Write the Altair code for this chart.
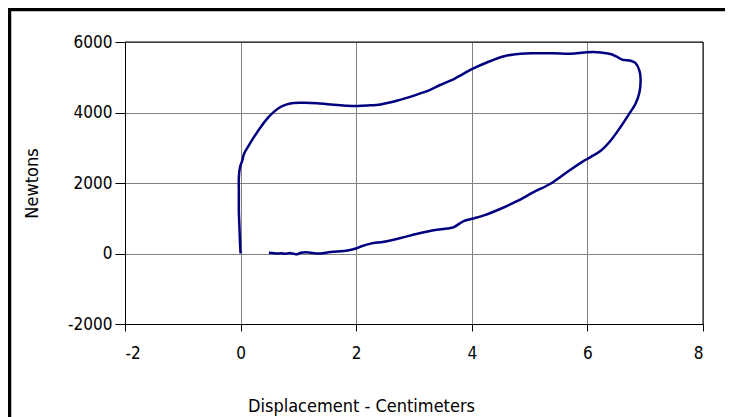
import altair as alt
import pandas as pd

# Traced load–displacement loop (cm, N), in drawing order
disp_cm = [0.00, -0.01, -0.02, -0.03, -0.03, -0.03, -0.01, 0.03, 0.06, 0.14, 0.23, 0.34, 0.46, 0.57,
           0.69, 0.80, 0.92, 1.10, 1.33, 1.61, 1.85, 2.02, 2.20, 2.42, 2.60, 2.77, 2.92, 3.06, 3.26,
           3.45, 3.69, 4.01, 4.27, 4.56, 4.84, 5.10, 5.42, 5.71, 6.00, 6.23, 6.40, 6.50, 6.60, 6.75,
           6.83, 6.90, 6.92, 6.90, 6.83, 6.72, 6.57, 6.40, 6.23, 6.06, 5.91, 5.65, 5.36, 5.07, 4.79,
           4.50, 4.21, 4.01, 3.86, 3.69, 3.58, 3.34, 3.06, 2.77, 2.48, 2.25, 2.08, 2.01, 1.85, 1.56,
           1.38, 1.30, 1.18, 1.04, 0.98, 0.92, 0.85, 0.78, 0.70, 0.62, 0.55, 0.49]
force_n = [0, 300, 750, 1200, 1700, 2170, 2450, 2640, 2830, 3060, 3300, 3570, 3825, 4010,
           4155, 4230, 4270, 4275, 4260, 4220, 4190, 4185, 4200, 4230, 4290, 4365, 4435, 4515, 4630,
           4780, 4950, 5235, 5425, 5595, 5670, 5680, 5680, 5665, 5710, 5705, 5660, 5590, 5500, 5470,
           5405, 5190, 4950, 4570, 4240, 3955, 3580, 3200, 2915, 2740, 2600, 2310, 1980, 1740, 1490,
           1270, 1080, 985, 920, 750, 710, 660, 560, 440, 335, 280, 200, 150, 85, 40,
           0, 0, 30, 20, -20, -10, 15, -10, 5, 0, 15, 20]

x_ticks = [-2, 0, 2, 4, 6, 8]
y_ticks = [-2000, 0, 2000, 4000, 6000]

df = pd.DataFrame({"x": disp_cm, "y": force_n, "i": list(range(len(disp_cm)))})

W, H = 578, 282
FONT = "DejaVu Sans Condensed, Liberation Sans Narrow, Arial Narrow, Liberation Sans, sans-serif"

line = alt.Chart(df).mark_line(color="#000080", strokeWidth=2.5, interpolate="catmull-rom").encode(
    x=alt.X("x:Q", scale=alt.Scale(domain=[-2, 8], nice=False, zero=False),
            axis=alt.Axis(values=x_ticks, title="Displacement - Centimeters",
                          labelExpr="'' + datum.value",
                          tickSize=7, labelPadding=14, titleX=236, titleY=82,
                          titleBaseline="middle", titleAlign="center")),
    y=alt.Y("y:Q", scale=alt.Scale(domain=[-2000, 6000], nice=False, zero=False),
            axis=alt.Axis(values=y_ticks, title="Newtons",
                          labelExpr="'' + datum.value",
                          tickSize=10, labelPadding=3, titleX=-93, titleY=141,
                          titleAngle=270, titleBaseline="middle", titleAlign="center")),
    order="i:O",
)

one = pd.DataFrame({"k": [0]})
# plot-area border (top and right) drawn over the gridlines
top_edge = alt.Chart(one).mark_rule(color="black", strokeWidth=1).encode(
    x=alt.value(0), x2=alt.value(W), y=alt.value(0))
right_edge = alt.Chart(one).mark_rule(color="black", strokeWidth=1).encode(
    x=alt.value(W), y=alt.value(0), y2=alt.value(H))
# outer chart frame (top and left edges visible)
frame_top = alt.Chart(one).mark_rule(color="black", strokeWidth=3.5).encode(
    x=alt.value(-117), x2=alt.value(W + 22), y=alt.value(-32.5))
frame_left = alt.Chart(one).mark_rule(color="black", strokeWidth=3.5).encode(
    x=alt.value(-115.5), y=alt.value(-34), y2=alt.value(H + 93))

chart = alt.layer(line, top_edge, right_edge, frame_top, frame_left).properties(
    width=W, height=H,
    autosize=alt.AutoSizeParams(type="none"),
    padding={"left": 117, "top": 34, "right": 22, "bottom": 93},
    background="white",
).configure_view(
    stroke="black", strokeWidth=1
).configure_axis(
    gridColor="#808080", gridWidth=1, gridOpacity=1,
    domainColor="black", domainWidth=1, tickColor="black", tickWidth=1,
    labelFont=FONT, labelFontSize=17, labelColor="black",
    titleFont=FONT, titleFontSize=18, titleFontWeight="normal", titleColor="black",
)

chart.save("out.html", embed_options={"renderer": "svg", "actions": False})
